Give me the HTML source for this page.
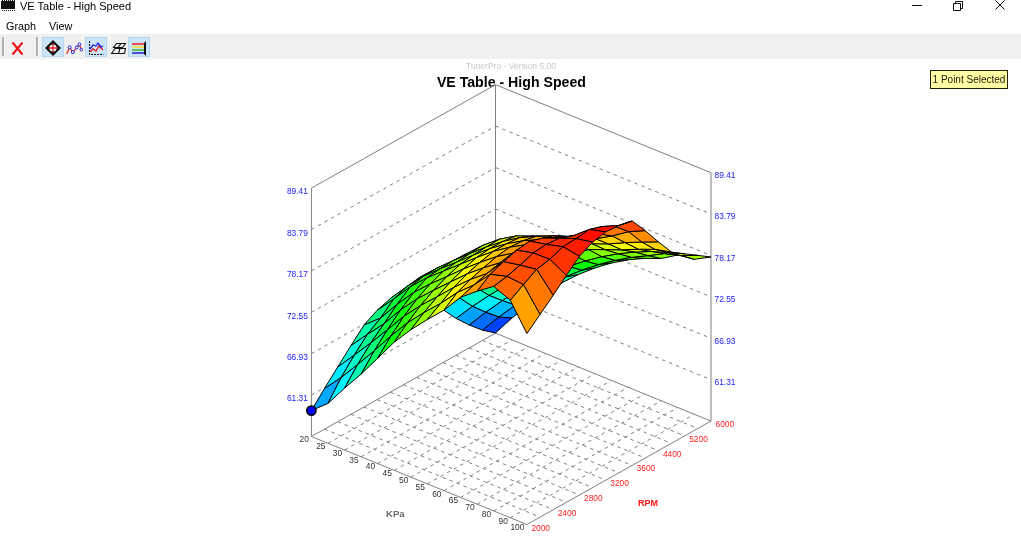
<!DOCTYPE html>
<html><head><meta charset="utf-8"><title>VE Table - High Speed</title>
<style>
html,body{margin:0;padding:0;background:#fff;}
body{width:1021px;height:537px;position:relative;overflow:hidden;font-family:"Liberation Sans",sans-serif;color:#000;}
.abs{position:absolute;}
#title{left:20px;top:-2px;font-size:11px;line-height:16px;white-space:nowrap;}
.menu{top:18px;font-size:10.8px;line-height:16px;}
#toolbar{left:0;top:33.5px;width:1021px;height:25px;background:#f0f0f0;}
.btn{position:absolute;top:3.5px;width:22px;height:20px;background:#cce4f7;border:1px solid #b4d6f2;box-sizing:border-box;}
.sep{position:absolute;top:3px;width:1.5px;height:19px;background:#b0b0b0;border-right:1px solid #fff;}
#chart{left:0;top:58px;}
svg text{font-family:"Liberation Sans",sans-serif;}
.d{stroke:#808080;stroke-width:1;stroke-dasharray:3.5 4;fill:none;}
.s{stroke:#808080;stroke-width:1;fill:none;}
#surf polygon{stroke:#000;stroke-width:1;stroke-linejoin:round;}
.zl{font-size:8.4px;fill:#1a1aff;}
.kl{font-size:8.4px;fill:#303030;}
.rl{font-size:8.4px;fill:#ff2020;}
#sel{left:930px;top:70px;width:78px;height:19px;box-sizing:border-box;background:#ffffa5;border:1px solid #202000;font-size:10px;line-height:18px;text-align:center;color:#202010;white-space:nowrap;}
</style></head><body>
<svg class="abs" style="left:0;top:0" width="18" height="12" viewBox="0 0 18 12"><rect x="1" y="1" width="14" height="8" fill="#111"/><g stroke="#111" stroke-width="1"><path d="M2.5 0v11M4.5 0v11M6.5 0v11M8.5 0v11M10.5 0v11M12.5 0v11M14.5 0v11" stroke-dasharray="1 9"/></g></svg>
<div id="title" class="abs">VE Table - High Speed</div>
<svg class="abs" style="left:900px;top:0" width="121" height="14" viewBox="0 0 121 14"><g stroke="#111" stroke-width="1" fill="none"><path d="M12 5.5h10"/><path d="M53.5 3.5h7v7h-7zM55.5 3.5v-2h7v7h-2"/><path d="M95.5 0.5l9 9M104.5 0.5l-9 9"/></g></svg>
<div class="abs menu" style="left:6px">Graph</div>
<div class="abs menu" style="left:49px">View</div>
<div id="toolbar" class="abs">
<div class="sep" style="left:2px"></div><div class="sep" style="left:36px"></div>
<div class="btn" style="left:42px"></div><div class="btn" style="left:85px"></div><div class="btn" style="left:128px"></div>
<svg class="abs" style="left:0;top:0" width="160" height="25" viewBox="0 0 160 25">
<path d="M12.5 8.5l10 12M22.5 8.5l-10 12" stroke="#e81010" stroke-width="2" fill="none"/>
<g transform="translate(45,6)"><path d="M8 0l8 8l-8 8l-8-8z" fill="#111"/><circle cx="8" cy="8" r="3.6" fill="#fff"/><path d="M8 3.5v9M3.5 8h9" stroke="#e02020" stroke-width="1.4"/></g>
<g fill="none"><path d="M66.6 19.7L69.7 13.4L72.9 18.1L76.8 13.4L79.2 10.3L81.5 15.7" stroke="#e02020" stroke-width="1.2"/><g stroke="#2020e0" stroke-width="1" fill="#fff"><circle cx="69.7" cy="13.4" r="1.5"/><circle cx="72.9" cy="18.1" r="1.5"/><circle cx="76.8" cy="13.4" r="1.5"/><circle cx="79.4" cy="10.3" r="1.4"/><circle cx="81.3" cy="15.7" r="1.3"/></g></g>
<g transform="translate(88,6)" fill="none"><path d="M1.5 1v13.5h14" stroke="#111" stroke-width="1" stroke-dasharray="2 1"/><path d="M2 12l3-3l3 2l3-5l4 4" stroke="#e02020" stroke-width="1.4"/><path d="M2 9l3-4l3 1l2-3l3 4l2-1" stroke="#2020e0" stroke-width="1.3"/></g>
<g transform="translate(110,6)" fill="none" stroke="#111" stroke-width="1.1"><path d="M6.5 3.5h9l-3 4h-9zM1.5 13.5l3.5-5h10.5l-1 5z"/><path d="M10 8.5l-1.5 5M11 3.5l-3 4"/></g>
<g transform="translate(131,6)"><rect x="1" y="3" width="12" height="2" fill="#e85050"/><rect x="1" y="6" width="12" height="2" fill="#e8e060"/><rect x="1" y="9" width="12" height="2" fill="#60c060"/><rect x="1" y="12" width="12" height="2" fill="#5050e0"/><path d="M15 1v15l-2-2v-11z" fill="#111"/></g>
</svg>
</div>
<svg id="chart" class="abs" style="left:0;top:0" width="1021" height="537" viewBox="0 0 1021 537">
<text x="511" y="69" text-anchor="middle" font-size="8.5" fill="#c8c8c8">TunerPro - Version 5.00</text>
<text x="511.4" y="87" text-anchor="middle" font-size="14.15" font-weight="bold" fill="#000">VE Table - High Speed</text>
<g shape-rendering="auto">
<line x1="311.4" y1="395.1" x2="495.5" y2="291.7" class="d"/>
<line x1="495.5" y1="291.7" x2="711.0" y2="379.7" class="d"/>
<line x1="311.4" y1="353.7" x2="495.5" y2="250.3" class="d"/>
<line x1="495.5" y1="250.3" x2="711.0" y2="338.3" class="d"/>
<line x1="311.4" y1="312.3" x2="495.5" y2="208.9" class="d"/>
<line x1="495.5" y1="208.9" x2="711.0" y2="296.9" class="d"/>
<line x1="311.4" y1="270.9" x2="495.5" y2="167.5" class="d"/>
<line x1="495.5" y1="167.5" x2="711.0" y2="255.5" class="d"/>
<line x1="311.4" y1="229.5" x2="495.5" y2="126.1" class="d"/>
<line x1="495.5" y1="126.1" x2="711.0" y2="214.1" class="d"/>
<line x1="328.0" y1="443.3" x2="512.1" y2="339.9" class="d"/>
<line x1="344.6" y1="450.0" x2="528.7" y2="346.6" class="d"/>
<line x1="361.1" y1="456.8" x2="545.2" y2="353.4" class="d"/>
<line x1="377.7" y1="463.6" x2="561.8" y2="360.2" class="d"/>
<line x1="394.3" y1="470.3" x2="578.4" y2="366.9" class="d"/>
<line x1="410.9" y1="477.1" x2="595.0" y2="373.7" class="d"/>
<line x1="427.4" y1="483.9" x2="611.5" y2="380.5" class="d"/>
<line x1="444.0" y1="490.7" x2="628.1" y2="387.3" class="d"/>
<line x1="460.6" y1="497.4" x2="644.7" y2="394.0" class="d"/>
<line x1="477.2" y1="504.2" x2="661.3" y2="400.8" class="d"/>
<line x1="493.7" y1="511.0" x2="677.8" y2="407.6" class="d"/>
<line x1="510.3" y1="517.7" x2="694.4" y2="414.3" class="d"/>
<line x1="324.5" y1="429.1" x2="540.0" y2="517.1" class="d"/>
<line x1="337.7" y1="421.7" x2="553.2" y2="509.7" class="d"/>
<line x1="350.8" y1="414.3" x2="566.4" y2="502.3" class="d"/>
<line x1="364.0" y1="407.0" x2="579.5" y2="495.0" class="d"/>
<line x1="377.1" y1="399.6" x2="592.6" y2="487.6" class="d"/>
<line x1="390.3" y1="392.2" x2="605.8" y2="480.2" class="d"/>
<line x1="403.4" y1="384.8" x2="618.9" y2="472.8" class="d"/>
<line x1="416.6" y1="377.4" x2="632.1" y2="465.4" class="d"/>
<line x1="429.8" y1="370.0" x2="645.2" y2="458.0" class="d"/>
<line x1="442.9" y1="362.6" x2="658.4" y2="450.6" class="d"/>
<line x1="456.0" y1="355.3" x2="671.5" y2="443.3" class="d"/>
<line x1="469.2" y1="347.9" x2="684.7" y2="435.9" class="d"/>
<line x1="482.3" y1="340.5" x2="697.8" y2="428.5" class="d"/>
<line x1="311.4" y1="436.5" x2="311.4" y2="188.1" class="s"/>
<line x1="495.5" y1="333.1" x2="495.5" y2="84.7" class="s"/>
<line x1="711.0" y1="421.1" x2="711.0" y2="172.7" class="s"/>
<line x1="311.4" y1="188.1" x2="495.5" y2="84.7" class="s"/>
<line x1="495.5" y1="84.7" x2="711.0" y2="172.7" class="s"/>
<line x1="311.4" y1="436.5" x2="495.5" y2="333.1" class="s"/>
<line x1="495.5" y1="333.1" x2="711.0" y2="421.1" class="s"/>
<line x1="311.4" y1="436.5" x2="526.9" y2="524.5" class="s"/>
<line x1="526.9" y1="524.5" x2="711.0" y2="421.1" class="s"/>
</g>
<g id="surf">
<polygon points="482.3,330.1 498.9,316.9 512.1,317.9 495.5,333.0" fill="#0040ff"/>
<polygon points="469.2,325.0 485.8,312.1 498.9,316.9 482.3,330.1" fill="#006dff"/>
<polygon points="498.9,316.9 515.5,305.0 528.7,304.5 512.1,317.9" fill="#0093ff"/>
<polygon points="456.0,318.4 472.6,306.2 485.8,312.1 469.2,325.0" fill="#00a2ff"/>
<polygon points="485.8,312.1 502.4,300.5 515.5,305.0 498.9,316.9" fill="#00bcff"/>
<polygon points="515.5,305.0 532.1,294.3 545.2,292.8 528.7,304.5" fill="#00e0ff"/>
<polygon points="442.9,309.5 459.5,297.9 472.6,306.2 456.0,318.4" fill="#00dfff"/>
<polygon points="472.6,306.2 489.2,295.3 502.4,300.5 485.8,312.1" fill="#00efff"/>
<polygon points="502.4,300.5 518.9,290.1 532.1,294.3 515.5,305.0" fill="#00fff9"/>
<polygon points="532.1,294.3 548.7,285.0 561.8,282.8 545.2,292.8" fill="#00ffd7"/>
<polygon points="459.5,297.9 476.1,287.4 489.2,295.3 472.6,306.2" fill="#00ffd5"/>
<polygon points="489.2,295.3 505.8,285.5 518.9,290.1 502.4,300.5" fill="#00ffc7"/>
<polygon points="429.8,297.8 446.3,281.1 459.5,297.9 442.9,309.5" fill="#00ffd2"/>
<polygon points="518.9,290.1 535.5,280.9 548.7,285.0 532.1,294.3" fill="#00ffb4"/>
<polygon points="548.7,285.0 565.2,276.9 578.4,274.5 561.8,282.8" fill="#00ff97"/>
<polygon points="505.8,285.5 522.4,276.9 535.5,280.9 518.9,290.1" fill="#00ff84"/>
<polygon points="476.1,287.4 492.6,275.1 505.8,285.5 489.2,295.3" fill="#00ff8c"/>
<polygon points="535.5,280.9 552.1,273.0 565.2,276.9 548.7,285.0" fill="#00ff75"/>
<polygon points="446.3,281.1 462.9,269.2 476.1,287.4 459.5,297.9" fill="#00ff82"/>
<polygon points="416.6,290.4 433.2,273.0 446.3,281.1 429.8,297.8" fill="#00ff86"/>
<polygon points="565.2,276.9 581.8,270.1 595.0,267.9 578.4,274.5" fill="#00ff5c"/>
<polygon points="522.4,276.9 538.9,269.4 552.1,273.0 535.5,280.9" fill="#00ff47"/>
<polygon points="552.1,273.0 568.7,266.3 581.8,270.1 565.2,276.9" fill="#00ff3b"/>
<polygon points="492.6,275.1 509.2,263.0 522.4,276.9 505.8,285.5" fill="#00ff44"/>
<polygon points="403.4,290.4 420.0,277.2 433.2,273.0 416.6,290.4" fill="#00ff5c"/>
<polygon points="581.8,270.1 598.4,264.5 611.5,263.0 595.0,267.9" fill="#00ff28"/>
<polygon points="462.9,269.2 479.5,258.5 492.6,275.1 476.1,287.4" fill="#00ff37"/>
<polygon points="433.2,273.0 449.8,262.8 462.9,269.2 446.3,281.1" fill="#00ff31"/>
<polygon points="390.3,298.6 406.9,286.6 420.0,277.2 403.4,290.4" fill="#00ff54"/>
<polygon points="568.7,266.3 585.2,260.9 598.4,264.5 581.8,270.1" fill="#00ff06"/>
<polygon points="538.9,269.4 555.5,261.9 568.7,266.3 552.1,273.0" fill="#00ff0c"/>
<polygon points="598.4,264.5 615.0,260.3 628.1,259.8 611.5,263.0" fill="#06ff00"/>
<polygon points="509.2,263.0 525.8,253.2 538.9,269.4 522.4,276.9" fill="#00ff02"/>
<polygon points="420.0,277.2 436.6,268.3 449.8,262.8 433.2,273.0" fill="#00ff0d"/>
<polygon points="479.5,258.5 496.1,248.7 509.2,263.0 492.6,275.1" fill="#13ff00"/>
<polygon points="377.1,310.4 393.7,299.1 406.9,286.6 390.3,298.6" fill="#00ff61"/>
<polygon points="449.8,262.8 466.3,253.9 479.5,258.5 462.9,269.2" fill="#16ff00"/>
<polygon points="364.0,325.1 380.6,318.0 393.7,299.1 377.1,310.4" fill="#00ff7e"/>
<polygon points="615.0,260.3 631.5,257.3 644.7,258.4 628.1,259.8" fill="#2eff00"/>
<polygon points="406.9,286.6 423.5,276.3 436.6,268.3 420.0,277.2" fill="#00ff0b"/>
<polygon points="585.2,260.9 601.8,256.6 615.0,260.3 598.4,264.5" fill="#2aff00"/>
<polygon points="555.5,261.9 572.1,253.9 585.2,260.9 568.7,266.3" fill="#2cff00"/>
<polygon points="525.8,253.2 542.4,245.8 555.5,261.9 538.9,269.4" fill="#3bff00"/>
<polygon points="436.6,268.3 453.2,260.6 466.3,253.9 449.8,262.8" fill="#33ff00"/>
<polygon points="350.8,345.8 367.4,334.4 380.6,318.0 364.0,325.1" fill="#00ffa8"/>
<polygon points="496.1,248.7 512.6,241.0 525.8,253.2 509.2,263.0" fill="#57ff00"/>
<polygon points="466.3,253.9 482.9,245.3 496.1,248.7 479.5,258.5" fill="#59ff00"/>
<polygon points="393.7,299.1 410.3,286.8 423.5,276.3 406.9,286.6" fill="#00ff16"/>
<polygon points="337.7,367.0 354.3,355.1 367.4,334.4 350.8,345.8" fill="#00ffdb"/>
<polygon points="631.5,257.3 648.1,255.6 661.3,258.5 644.7,258.4" fill="#50ff00"/>
<polygon points="601.8,256.6 618.4,253.7 631.5,257.3 615.0,260.3" fill="#54ff00"/>
<polygon points="324.5,388.5 341.1,377.7 354.3,355.1 337.7,367.0" fill="#00e9ff"/>
<polygon points="423.5,276.3 440.0,268.9 453.2,260.6 436.6,268.3" fill="#34ff00"/>
<polygon points="572.1,253.9 588.7,249.5 601.8,256.6 585.2,260.9" fill="#5eff00"/>
<polygon points="380.6,318.0 397.2,304.2 410.3,286.8 393.7,299.1" fill="#00ff35"/>
<polygon points="542.4,245.8 558.9,243.5 572.1,253.9 555.5,261.9" fill="#71ff00"/>
<polygon points="311.4,410.6 328.0,403.4 341.1,377.7 324.5,388.5" fill="#00a9ff"/>
<polygon points="453.2,260.6 469.8,253.7 482.9,245.3 466.3,253.9" fill="#70ff00"/>
<polygon points="367.4,334.4 384.0,323.8 397.2,304.2 380.6,318.0" fill="#00ff61"/>
<polygon points="512.6,241.0 529.2,238.2 542.4,245.8 525.8,253.2" fill="#8fff00"/>
<polygon points="482.9,245.3 499.5,239.2 512.6,241.0 496.1,248.7" fill="#96ff00"/>
<polygon points="410.3,286.8 426.9,277.8 440.0,268.9 423.5,276.3" fill="#2eff00"/>
<polygon points="648.1,255.6 664.7,253.5 677.8,255.0 661.3,258.5" fill="#73ff00"/>
<polygon points="618.4,253.7 635.0,252.0 648.1,255.6 631.5,257.3" fill="#7aff00"/>
<polygon points="354.3,355.1 370.9,342.8 384.0,323.8 367.4,334.4" fill="#00ff90"/>
<polygon points="588.7,249.5 605.2,249.6 618.4,253.7 601.8,256.6" fill="#86ff00"/>
<polygon points="440.0,268.9 456.6,262.1 469.8,253.7 453.2,260.6" fill="#6dff00"/>
<polygon points="341.1,377.7 357.7,364.5 370.9,342.8 354.3,355.1" fill="#00ffc8"/>
<polygon points="558.9,243.5 575.5,243.6 588.7,249.5 572.1,253.9" fill="#9cff00"/>
<polygon points="397.2,304.2 413.7,292.5 426.9,277.8 410.3,286.8" fill="#17ff00"/>
<polygon points="328.0,403.4 344.6,388.1 357.7,364.5 341.1,377.7" fill="#00f4ff"/>
<polygon points="529.2,238.2 545.8,238.3 558.9,243.5 542.4,245.8" fill="#b8ff00"/>
<polygon points="469.8,253.7 486.3,247.0 499.5,239.2 482.9,245.3" fill="#a9ff00"/>
<polygon points="664.7,253.5 681.3,255.5 694.4,259.3 677.8,255.0" fill="#8eff00"/>
<polygon points="499.5,239.2 516.1,236.0 529.2,238.2 512.6,241.0" fill="#c6ff00"/>
<polygon points="384.0,323.8 400.6,309.9 413.7,292.5 397.2,304.2" fill="#00ff11"/>
<polygon points="635.0,252.0 651.5,251.4 664.7,253.5 648.1,255.6" fill="#9cff00"/>
<polygon points="426.9,277.8 443.5,271.1 456.6,262.1 440.0,268.9" fill="#68ff00"/>
<polygon points="605.2,249.6 621.8,249.8 635.0,252.0 618.4,253.7" fill="#a6ff00"/>
<polygon points="370.9,342.8 387.4,329.8 400.6,309.9 384.0,323.8" fill="#00ff41"/>
<polygon points="575.5,243.6 592.1,243.7 605.2,249.6 588.7,249.5" fill="#bcff00"/>
<polygon points="456.6,262.1 473.2,255.2 486.3,247.0 469.8,253.7" fill="#a5ff00"/>
<polygon points="545.8,238.3 562.4,238.5 575.5,243.6 558.9,243.5" fill="#d5ff00"/>
<polygon points="413.7,292.5 430.3,283.8 443.5,271.1 426.9,277.8" fill="#58ff00"/>
<polygon points="681.3,255.5 697.8,255.4 711.0,257.0 694.4,259.3" fill="#a6ff00"/>
<polygon points="357.7,364.5 374.3,350.8 387.4,329.8 370.9,342.8" fill="#00ff76"/>
<polygon points="486.3,247.0 502.9,241.5 516.1,236.0 499.5,239.2" fill="#daff00"/>
<polygon points="516.1,236.0 532.6,236.1 545.8,238.3 529.2,238.2" fill="#e7ff00"/>
<polygon points="651.5,251.4 668.1,252.5 681.3,255.5 664.7,253.5" fill="#b7ff00"/>
<polygon points="344.6,388.1 361.1,374.2 374.3,350.8 357.7,364.5" fill="#00ffb4"/>
<polygon points="621.8,249.8 638.4,249.2 651.5,251.4 635.0,252.0" fill="#c5ff00"/>
<polygon points="443.5,271.1 460.0,264.4 473.2,255.2 456.6,262.1" fill="#a0ff00"/>
<polygon points="400.6,309.9 417.2,298.8 430.3,283.8 413.7,292.5" fill="#39ff00"/>
<polygon points="592.1,243.7 608.7,243.9 621.8,249.8 605.2,249.6" fill="#d7ff00"/>
<polygon points="562.4,238.5 578.9,238.6 592.1,243.7 575.5,243.6" fill="#f0ff00"/>
<polygon points="473.2,255.2 489.8,248.7 502.9,241.5 486.3,247.0" fill="#dbff00"/>
<polygon points="387.4,329.8 404.0,316.2 417.2,298.8 400.6,309.9" fill="#10ff00"/>
<polygon points="532.6,236.1 549.2,236.3 562.4,238.5 545.8,238.3" fill="#fffb00"/>
<polygon points="502.9,241.5 519.5,237.7 532.6,236.1 516.1,236.0" fill="#fffb00"/>
<polygon points="668.1,252.5 684.7,253.8 697.8,255.4 681.3,255.5" fill="#cfff00"/>
<polygon points="430.3,283.8 446.9,276.6 460.0,264.4 443.5,271.1" fill="#92ff00"/>
<polygon points="638.4,249.2 655.0,249.3 668.1,252.5 651.5,251.4" fill="#e0ff00"/>
<polygon points="374.3,350.8 390.9,336.0 404.0,316.2 387.4,329.8" fill="#00ff22"/>
<polygon points="608.7,243.9 625.2,242.6 638.4,249.2 621.8,249.8" fill="#f4ff00"/>
<polygon points="460.0,264.4 476.6,257.6 489.8,248.7 473.2,255.2" fill="#d7ff00"/>
<polygon points="361.1,374.2 377.7,358.2 390.9,336.0 374.3,350.8" fill="#00ff5c"/>
<polygon points="417.2,298.8 433.7,290.2 446.9,276.6 430.3,283.8" fill="#79ff00"/>
<polygon points="578.9,238.6 595.5,238.8 608.7,243.9 592.1,243.7" fill="#fff200"/>
<polygon points="489.8,248.7 506.3,243.9 519.5,237.7 502.9,241.5" fill="#fff200"/>
<polygon points="549.2,236.3 565.8,236.4 578.9,238.6 562.4,238.5" fill="#ffe000"/>
<polygon points="519.5,237.7 536.1,236.4 549.2,236.3 532.6,236.1" fill="#ffda00"/>
<polygon points="655.0,249.3 671.5,252.1 684.7,253.8 668.1,252.5" fill="#f7ff00"/>
<polygon points="404.0,316.2 420.6,305.5 433.7,290.2 417.2,298.8" fill="#59ff00"/>
<polygon points="446.9,276.6 463.5,268.9 476.6,257.6 460.0,264.4" fill="#cbff00"/>
<polygon points="625.2,242.6 641.8,242.0 655.0,249.3 638.4,249.2" fill="#ffeb00"/>
<polygon points="595.5,238.8 612.1,235.9 625.2,242.6 608.7,243.9" fill="#ffd300"/>
<polygon points="390.9,336.0 407.4,322.9 420.6,305.5 404.0,316.2" fill="#2fff00"/>
<polygon points="476.6,257.6 493.2,251.4 506.3,243.9 489.8,248.7" fill="#fff200"/>
<polygon points="565.8,236.4 582.4,236.6 595.5,238.8 578.9,238.6" fill="#ffc500"/>
<polygon points="433.7,290.2 450.3,282.1 463.5,268.9 446.9,276.6" fill="#b6ff00"/>
<polygon points="506.3,243.9 522.9,240.8 536.1,236.4 519.5,237.7" fill="#ffc900"/>
<polygon points="536.1,236.4 552.6,236.0 565.8,236.4 549.2,236.3" fill="#ffbd00"/>
<polygon points="377.7,358.2 394.3,342.1 407.4,322.9 390.9,336.0" fill="#00ff03"/>
<polygon points="641.8,242.0 658.4,241.9 671.5,252.1 655.0,249.3" fill="#ffd200"/>
<polygon points="463.5,268.9 480.0,262.4 493.2,251.4 476.6,257.6" fill="#fffb00"/>
<polygon points="420.6,305.5 437.2,296.8 450.3,282.1 433.7,290.2" fill="#9aff00"/>
<polygon points="612.1,235.9 628.7,231.7 641.8,242.0 625.2,242.6" fill="#ffad00"/>
<polygon points="493.2,251.4 509.8,247.2 522.9,240.8 506.3,243.9" fill="#ffc300"/>
<polygon points="582.4,236.6 598.9,233.8 612.1,235.9 595.5,238.8" fill="#ffa400"/>
<polygon points="552.6,236.0 569.2,236.6 582.4,236.6 565.8,236.4" fill="#ffa200"/>
<polygon points="522.9,240.8 539.5,239.7 552.6,236.0 536.1,236.4" fill="#ffa700"/>
<polygon points="407.4,322.9 424.0,312.5 437.2,296.8 420.6,305.5" fill="#77ff00"/>
<polygon points="450.3,282.1 466.9,274.0 480.0,262.4 463.5,268.9" fill="#f1ff00"/>
<polygon points="394.3,342.1 410.9,329.7 424.0,312.5 407.4,322.9" fill="#4eff00"/>
<polygon points="480.0,262.4 496.6,256.6 509.8,247.2 493.2,251.4" fill="#ffc800"/>
<polygon points="437.2,296.8 453.7,287.5 466.9,274.0 450.3,282.1" fill="#d9ff00"/>
<polygon points="628.7,231.7 645.2,230.6 658.4,241.9 641.8,242.0" fill="#ff8c00"/>
<polygon points="509.8,247.2 526.3,244.7 539.5,239.7 522.9,240.8" fill="#ff9c00"/>
<polygon points="569.2,236.6 585.8,234.5 598.9,233.8 582.4,236.6" fill="#ff8200"/>
<polygon points="539.5,239.7 556.1,237.3 569.2,236.6 552.6,236.0" fill="#ff8700"/>
<polygon points="598.9,233.8 615.5,226.5 628.7,231.7 612.1,235.9" fill="#ff7600"/>
<polygon points="424.0,312.5 440.6,303.5 453.7,287.5 437.2,296.8" fill="#b9ff00"/>
<polygon points="466.9,274.0 483.5,267.8 496.6,256.6 480.0,262.4" fill="#ffd600"/>
<polygon points="496.6,256.6 513.2,253.2 526.3,244.7 509.8,247.2" fill="#ff9c00"/>
<polygon points="410.9,329.7 427.4,319.5 440.6,303.5 424.0,312.5" fill="#95ff00"/>
<polygon points="526.3,244.7 542.9,238.1 556.1,237.3 539.5,239.7" fill="#ff7400"/>
<polygon points="453.7,287.5 470.3,279.5 483.5,267.8 466.9,274.0" fill="#ffe900"/>
<polygon points="556.1,237.3 572.6,236.0 585.8,234.5 569.2,236.6" fill="#ff6600"/>
<polygon points="585.8,234.5 602.4,226.5 615.5,226.5 598.9,233.8" fill="#ff5100"/>
<polygon points="615.5,226.5 632.1,221.0 645.2,230.6 628.7,231.7" fill="#ff4800"/>
<polygon points="483.5,267.8 500.0,262.8 513.2,253.2 496.6,256.6" fill="#ffa600"/>
<polygon points="440.6,303.5 457.2,292.6 470.3,279.5 453.7,287.5" fill="#fbff00"/>
<polygon points="513.2,253.2 529.8,241.1 542.9,238.1 526.3,244.7" fill="#ff6700"/>
<polygon points="542.9,238.1 559.5,238.2 572.6,236.0 556.1,237.3" fill="#ff4d00"/>
<polygon points="427.4,319.5 444.0,310.1 457.2,292.6 440.6,303.5" fill="#d9ff00"/>
<polygon points="572.6,236.0 589.2,229.5 602.4,226.5 585.8,234.5" fill="#ff3800"/>
<polygon points="470.3,279.5 486.9,273.6 500.0,262.8 483.5,267.8" fill="#ffb400"/>
<polygon points="602.4,226.5 618.9,225.5 632.1,221.0 615.5,226.5" fill="#ff1f00"/>
<polygon points="500.0,262.8 516.6,250.2 529.8,241.1 513.2,253.2" fill="#ff6800"/>
<polygon points="457.2,292.6 473.7,285.2 486.9,273.6 470.3,279.5" fill="#ffc600"/>
<polygon points="529.8,241.1 546.3,244.4 559.5,238.2 542.9,238.1" fill="#ff3c00"/>
<polygon points="559.5,238.2 576.1,238.6 589.2,229.5 572.6,236.0" fill="#ff2a00"/>
<polygon points="589.2,229.5 605.8,231.8 618.9,225.5 602.4,226.5" fill="#ff0f00"/>
<polygon points="486.9,273.6 503.5,261.7 516.6,250.2 500.0,262.8" fill="#ff7400"/>
<polygon points="444.0,310.1 460.6,297.3 473.7,285.2 457.2,292.6" fill="#ffdf00"/>
<polygon points="516.6,250.2 533.2,253.0 546.3,244.4 529.8,241.1" fill="#ff3900"/>
<polygon points="546.3,244.4 562.9,246.8 576.1,238.6 559.5,238.2" fill="#ff2600"/>
<polygon points="576.1,238.6 592.6,242.2 605.8,231.8 589.2,229.5" fill="#ff0e00"/>
<polygon points="473.7,285.2 490.3,274.3 503.5,261.7 486.9,273.6" fill="#ff8500"/>
<polygon points="503.5,261.7 520.0,265.2 533.2,253.0 516.6,250.2" fill="#ff4500"/>
<polygon points="533.2,253.0 549.8,259.3 562.9,246.8 546.3,244.4" fill="#ff2c00"/>
<polygon points="460.6,297.3 477.2,291.2 490.3,274.3 473.7,285.2" fill="#ff9d00"/>
<polygon points="562.9,246.8 579.5,256.2 592.6,242.2 576.1,238.6" fill="#ff1b00"/>
<polygon points="490.3,274.3 506.9,276.4 520.0,265.2 503.5,261.7" fill="#ff5700"/>
<polygon points="549.8,259.3 566.4,275.4 579.5,256.2 562.9,246.8" fill="#ff3300"/>
<polygon points="520.0,265.2 536.6,269.4 549.8,259.3 533.2,253.0" fill="#ff3a00"/>
<polygon points="477.2,291.2 493.7,286.4 506.9,276.4 490.3,274.3" fill="#ff6d00"/>
<polygon points="536.6,269.4 553.2,295.3 566.4,275.4 549.8,259.3" fill="#ff5500"/>
<polygon points="506.9,276.4 523.5,284.6 536.6,269.4 520.0,265.2" fill="#ff4e00"/>
<polygon points="523.5,284.6 540.0,314.5 553.2,295.3 536.6,269.4" fill="#ff7800"/>
<polygon points="493.7,286.4 510.3,300.3 523.5,284.6 506.9,276.4" fill="#ff6500"/>
<polygon points="510.3,300.3 526.9,333.6 540.0,314.5 523.5,284.6" fill="#ffa100"/>
</g>
<circle cx="311.4" cy="410.6" r="4.6" fill="#0000ff" stroke="#000" stroke-width="1.6"/>
<text x="307.9" y="401.4" class="zl" text-anchor="end">61.31</text>
<text x="714.5" y="385.0" class="zl">61.31</text>
<text x="307.9" y="360.0" class="zl" text-anchor="end">66.93</text>
<text x="714.5" y="343.6" class="zl">66.93</text>
<text x="307.9" y="318.6" class="zl" text-anchor="end">72.55</text>
<text x="714.5" y="302.2" class="zl">72.55</text>
<text x="307.9" y="277.2" class="zl" text-anchor="end">78.17</text>
<text x="714.5" y="260.8" class="zl">78.17</text>
<text x="307.9" y="235.8" class="zl" text-anchor="end">83.79</text>
<text x="714.5" y="219.4" class="zl">83.79</text>
<text x="307.9" y="194.4" class="zl" text-anchor="end">89.41</text>
<text x="714.5" y="178.0" class="zl">89.41</text>
<text x="308.9" y="442.3" class="kl" text-anchor="end">20</text>
<text x="325.5" y="449.1" class="kl" text-anchor="end">25</text>
<text x="342.1" y="455.8" class="kl" text-anchor="end">30</text>
<text x="358.6" y="462.6" class="kl" text-anchor="end">35</text>
<text x="375.2" y="469.4" class="kl" text-anchor="end">40</text>
<text x="391.8" y="476.1" class="kl" text-anchor="end">45</text>
<text x="408.4" y="482.9" class="kl" text-anchor="end">50</text>
<text x="424.9" y="489.7" class="kl" text-anchor="end">55</text>
<text x="441.5" y="496.5" class="kl" text-anchor="end">60</text>
<text x="458.1" y="503.2" class="kl" text-anchor="end">65</text>
<text x="474.7" y="510.0" class="kl" text-anchor="end">70</text>
<text x="491.2" y="516.8" class="kl" text-anchor="end">80</text>
<text x="507.8" y="523.5" class="kl" text-anchor="end">90</text>
<text x="524.4" y="530.3" class="kl" text-anchor="end">100</text>
<text x="531.4" y="530.5" class="rl">2000</text>
<text x="557.7" y="515.7" class="rl">2400</text>
<text x="584.0" y="501.0" class="rl">2800</text>
<text x="610.3" y="486.2" class="rl">3200</text>
<text x="636.6" y="471.4" class="rl">3600</text>
<text x="662.9" y="456.6" class="rl">4400</text>
<text x="689.2" y="441.9" class="rl">5200</text>
<text x="715.5" y="427.1" class="rl">6000</text>
<text x="395.3" y="517" text-anchor="middle" font-size="9.5" font-weight="bold" fill="#686868">KPa</text>
<text x="648" y="506" text-anchor="middle" font-size="9" font-weight="bold" fill="#ff1010">RPM</text>
</svg>
<div id="sel" class="abs">1 Point Selected</div>
</body></html>
